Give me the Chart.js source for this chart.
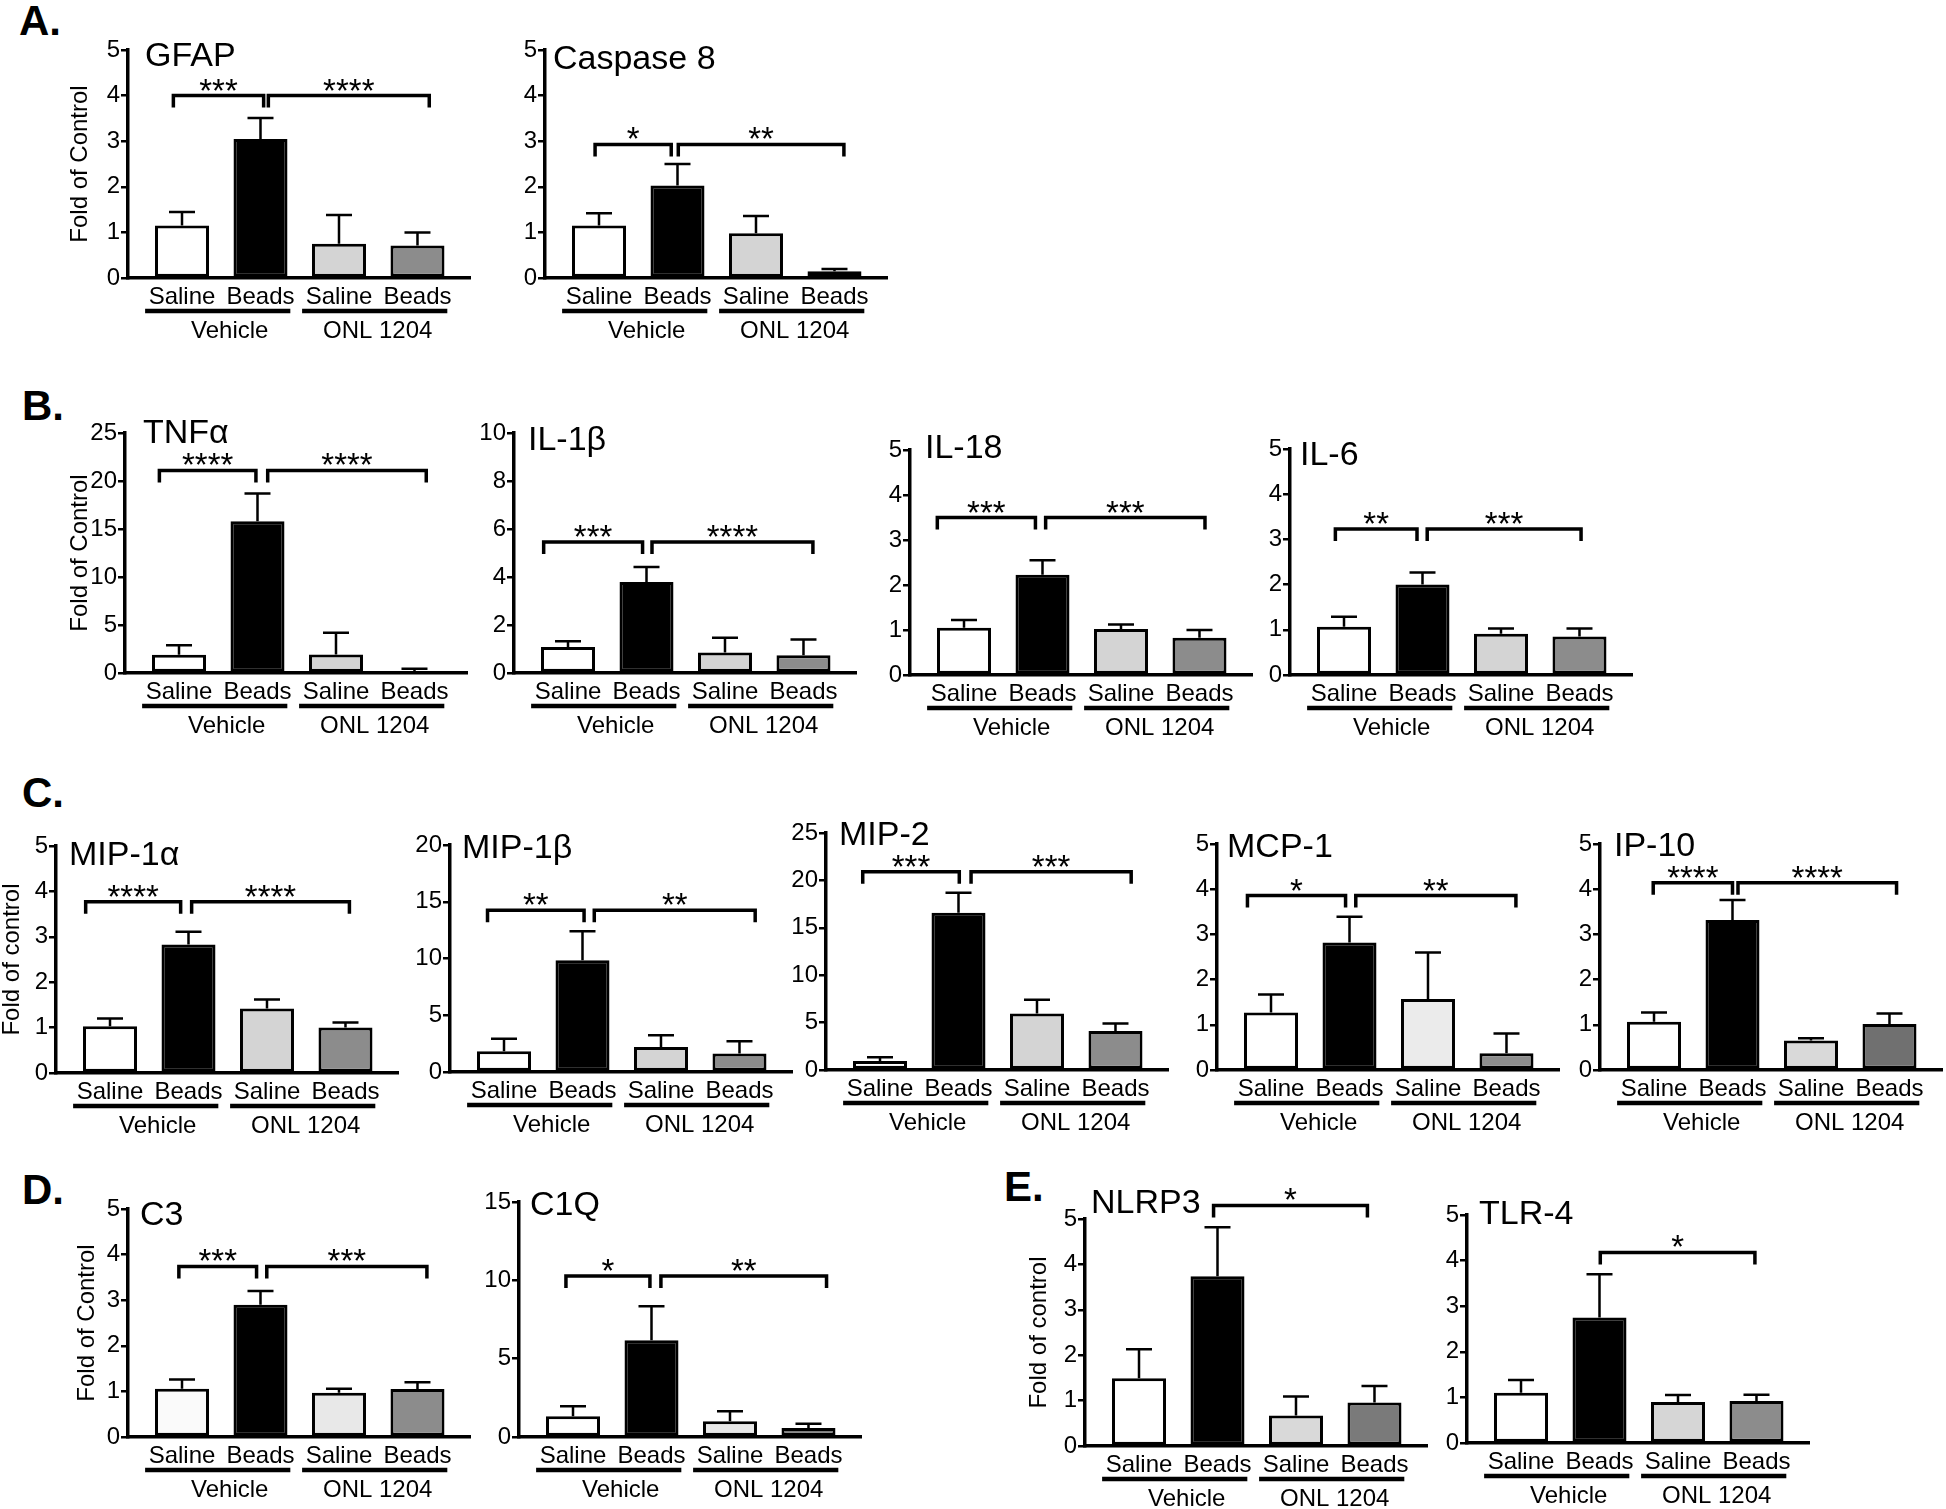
<!DOCTYPE html>
<html>
<head>
<meta charset="utf-8">
<script src="https://cdn.jsdelivr.net/npm/chart.js@4.4.1/dist/chart.umd.min.js"></script>
<style>
  html, body { margin: 0; padding: 0; background: #fff; }
  body { width: 1946px; height: 1509px; position: relative; overflow: hidden; }
  canvas { position: absolute; }
  .letter { position: absolute; font: bold 42px 'Liberation Sans', Arial, sans-serif; line-height: 42px; color: #000; }
</style>
</head>
<body>
<div class="letter" style="left:19px;top:0px">A.</div>
<div class="letter" style="left:22px;top:385px">B.</div>
<div class="letter" style="left:22px;top:772px">C.</div>
<div class="letter" style="left:22px;top:1169px">D.</div>
<div class="letter" style="left:1004px;top:1166px">E.</div>
<script>
const FONT = "'Liberation Sans', Arial, sans-serif";

// x categories and group names
const groups = ['Saline', 'Beads', 'Saline', 'Beads'];
const treatments = ['Vehicle', 'ONL 1204'];

// mean, SEM and significance brackets [from, to, height, stars] for each marker
const gfapMean = [1.15, 3.05, 0.75, 0.71];
const gfapSem = [0.30, 0.46, 0.63, 0.29];
const gfapSig = [[-0.11, 1.04, 4.0, '***'], [1.10, 3.15, 4.0, '****']];

const casp8Mean = [1.15, 2.03, 0.98, 0.15];
const casp8Sem = [0.27, 0.47, 0.38, 0.05];
const casp8Sig = [[-0.05, 0.92, 2.93, '*'], [1.01, 3.12, 2.93, '**']];

const tnfMean = [1.9, 15.8, 1.94, 0.2];
const tnfSem = [0.98, 2.9, 2.26, 0.25];
const tnfSig = [[-0.25, 0.98, 21.1, '****'], [1.13, 3.15, 21.1, '****']];

const il1bMean = [1.08, 3.79, 0.85, 0.74];
const il1bSem = [0.24, 0.63, 0.62, 0.66];
const il1bSig = [[-0.31, 0.95, 5.46, '***'], [1.07, 3.12, 5.46, '****']];

const il18Mean = [1.05, 2.23, 1.02, 0.83];
const il18Sem = [0.17, 0.32, 0.10, 0.17];
const il18Sig = [[-0.34, 0.91, 3.5, '***'], [1.04, 3.07, 3.5, '***']];

const il6Mean = [1.07, 2.0, 0.91, 0.85];
const il6Sem = [0.22, 0.27, 0.12, 0.18];
const il6Sig = [[-0.11, 0.93, 3.23, '**'], [1.06, 3.02, 3.23, '***']];

const mip1aMean = [1.03, 2.83, 1.42, 1.0];
const mip1aSem = [0.17, 0.28, 0.20, 0.11];
const mip1aSig = [[-0.31, 0.90, 3.77, '****'], [1.04, 3.05, 3.77, '****']];

const mip1bMean = [1.82, 9.85, 2.2, 1.62];
const mip1bSem = [1.12, 2.55, 1.04, 1.08];
const mip1bSig = [[-0.21, 1.02, 14.26, '**'], [1.15, 3.2, 14.26, '**']];

const mip2Mean = [0.95, 16.6, 5.95, 4.12];
const mip2Sem = [0.4, 2.1, 1.45, 0.78];
const mip2Sig = [[-0.22, 1.01, 20.9, '***'], [1.16, 3.2, 20.9, '***']];

const mcp1Mean = [1.27, 2.82, 1.57, 0.37];
const mcp1Sem = [0.40, 0.57, 1.03, 0.44];
const mcp1Sig = [[-0.3, 0.95, 3.86, '*'], [1.08, 3.12, 3.86, '**']];

const ip10Mean = [1.07, 3.32, 0.65, 1.02];
const ip10Sem = [0.20, 0.44, 0.05, 0.23];
const ip10Sig = [[-0.01, 1.0, 4.14, '****'], [1.07, 3.09, 4.14, '****']];

const c3Mean = [1.06, 2.9, 0.97, 1.05];
const c3Sem = [0.20, 0.30, 0.09, 0.15];
const c3Sig = [[-0.04, 0.95, 3.74, '***'], [1.08, 3.12, 3.74, '***']];

const c1qMean = [1.32, 6.17, 1.0, 0.57];
const c1qSem = [0.64, 2.17, 0.64, 0.28];
const c1qSig = [[-0.09, 0.98, 10.28, '*'], [1.12, 3.23, 10.28, '**']];

const nlrp3Mean = [1.49, 3.74, 0.67, 0.96];
const nlrp3Sem = [0.64, 1.08, 0.42, 0.36];
const nlrp3Sig = [[0.95, 2.91, 5.3, '*']];

const tlr4Mean = [1.1, 2.75, 0.9, 0.92];
const tlr4Sem = [0.28, 0.95, 0.15, 0.14];
const tlr4Sig = [[1.01, 2.98, 4.18, '*']];

// layout of each small plot (axis x, top and zero pixel of the y axis)
const stdColors = ['#ffffff', '#000000', '#d4d4d4', '#8c8c8c'];
const panels = [
  {id: 'gfap', title: 'GFAP', mean: gfapMean, sem: gfapSem, sig: gfapSig, max: 5, step: 1, ax: 128, top: 50, zero: 278, tdx: 17, tdy: 16, ylabel: 'Fold of Control', ydx: -48, colors: stdColors},
  {id: 'casp8', title: 'Caspase 8', mean: casp8Mean, sem: casp8Sem, sig: casp8Sig, max: 5, step: 1, ax: 545, top: 50, zero: 278, tdx: 8, tdy: 19, colors: stdColors},
  {id: 'tnf', title: 'TNFα', mean: tnfMean, sem: tnfSem, sig: tnfSig, max: 25, step: 5, ax: 125, top: 433, zero: 673, tdx: 18, tdy: 10, ylabel: 'Fold of Control', ydx: -45, colors: stdColors},
  {id: 'il1b', title: 'IL-1β', mean: il1bMean, sem: il1bSem, sig: il1bSig, max: 10, step: 2, ax: 514, top: 433, zero: 673, tdx: 14, tdy: 17, colors: stdColors},
  {id: 'il18', title: 'IL-18', mean: il18Mean, sem: il18Sem, sig: il18Sig, max: 5, step: 1, ax: 910, top: 450, zero: 675, tdx: 15, tdy: 8, colors: stdColors},
  {id: 'il6', title: 'IL-6', mean: il6Mean, sem: il6Sem, sig: il6Sig, max: 5, step: 1, ax: 1290, top: 449, zero: 675, tdx: 10, tdy: 16, colors: stdColors},
  {id: 'mip1a', title: 'MIP-1α', mean: mip1aMean, sem: mip1aSem, sig: mip1aSig, max: 5, step: 1, ax: 56, top: 846, zero: 1073, tdx: 13, tdy: 19, ylabel: 'Fold of control', ydx: -44, colors: stdColors},
  {id: 'mip1b', title: 'MIP-1β', mean: mip1bMean, sem: mip1bSem, sig: mip1bSig, max: 20, step: 5, ax: 450, top: 845, zero: 1072, tdx: 12, tdy: 13, colors: stdColors},
  {id: 'mip2', title: 'MIP-2', mean: mip2Mean, sem: mip2Sem, sig: mip2Sig, max: 25, step: 5, ax: 826, top: 833, zero: 1070, tdx: 13, tdy: 12, colors: stdColors},
  {id: 'mcp1', title: 'MCP-1', mean: mcp1Mean, sem: mcp1Sem, sig: mcp1Sig, max: 5, step: 1, ax: 1217, top: 844, zero: 1070, tdx: 10, tdy: 13, colors: ['#ffffff', '#000000', '#ebebeb', '#8c8c8c']},
  {id: 'ip10', title: 'IP-10', mean: ip10Mean, sem: ip10Sem, sig: ip10Sig, max: 5, step: 1, ax: 1600, top: 844, zero: 1070, tdx: 14, tdy: 12, colors: ['#ffffff', '#000000', '#d9d9d9', '#707070']},
  {id: 'c3', title: 'C3', mean: c3Mean, sem: c3Sem, sig: c3Sig, max: 5, step: 1, ax: 128, top: 1209, zero: 1437, tdx: 12, tdy: 16, ylabel: 'Fold of Control', ydx: -41, colors: ['#fafafa', '#000000', '#e8e8e8', '#8c8c8c']},
  {id: 'c1q', title: 'C1Q', mean: c1qMean, sem: c1qSem, sig: c1qSig, max: 15, step: 5, ax: 519, top: 1202, zero: 1437, tdx: 11, tdy: 13, colors: ['#ffffff', '#000000', '#e8e8e8', '#7d7d7d']},
  {id: 'nlrp3', title: 'NLRP3', mean: nlrp3Mean, sem: nlrp3Sem, sig: nlrp3Sig, max: 5, step: 1, ax: 1085, top: 1219, zero: 1446, tdx: 6, tdy: -6, ylabel: 'Fold of control', ydx: -46, colors: ['#ffffff', '#000000', '#d9d9d9', '#7a7a7a']},
  {id: 'tlr4', title: 'TLR-4', mean: tlr4Mean, sem: tlr4Sem, sig: tlr4Sig, max: 5, step: 1, ax: 1467, top: 1215, zero: 1443, tdx: 12, tdy: 9, colors: ['#ffffff', '#000000', '#d6d6d6', '#8c8c8c']}
];

const PAD_L = 70, PAD_T = 90, PLOT_W = 342, PAD_R = 30, XH = 40, PAD_B = 50;
const byId = {};

// error bars, brackets, group underlines, titles
const decor = {
  id: 'decor',
  afterDatasetsDraw(chart) {
    const p = byId[chart.canvas.id];
    const ctx = chart.ctx, ys = chart.scales.y;
    ctx.save();
    ctx.strokeStyle = '#000';
    ctx.lineWidth = 2.5;
    chart.getDatasetMeta(0).data.forEach((bar, i) => {
      const top = ys.getPixelForValue(p.mean[i] + p.sem[i]);
      ctx.beginPath();
      ctx.moveTo(bar.x, bar.y);
      ctx.lineTo(bar.x, top);
      ctx.moveTo(bar.x - 13, top);
      ctx.lineTo(bar.x + 13, top);
      ctx.stroke();
    });
    ctx.restore();
  },
  afterDraw(chart) {
    const p = byId[chart.canvas.id];
    const ctx = chart.ctx, xs = chart.scales.x, ys = chart.scales.y;
    const area = chart.chartArea;
    const zero = ys.getPixelForValue(0);
    ctx.save();
    ctx.strokeStyle = '#000';
    ctx.fillStyle = '#000';
    ctx.lineJoin = 'miter';

    // significance brackets
    ctx.lineWidth = 3.5;
    ctx.font = '33px ' + FONT;
    ctx.textAlign = 'center';
    ctx.textBaseline = 'alphabetic';
    p.sig.forEach(([a, b, h, label]) => {
      const x1 = xs.getPixelForValue(a), x2 = xs.getPixelForValue(b), yy = ys.getPixelForValue(h);
      ctx.beginPath();
      ctx.moveTo(x1, yy + 12);
      ctx.lineTo(x1, yy);
      ctx.lineTo(x2, yy);
      ctx.lineTo(x2, yy + 12);
      ctx.stroke();
      ctx.fillText(label, (x1 + x2) / 2, yy + 6);
    });

    // treatment underlines
    ctx.lineWidth = 4.5;
    ctx.font = '24px ' + FONT;
    treatments.forEach((t, k) => {
      const x1 = xs.getPixelForValue(2 * k - 0.47), x2 = xs.getPixelForValue(2 * k + 1.38);
      ctx.beginPath();
      ctx.moveTo(x1, zero + 33);
      ctx.lineTo(x2, zero + 33);
      ctx.stroke();
      ctx.fillText(t, (x1 + x2) / 2 + (k === 0 ? 12 : 3), zero + 59.5);
    });

    // panel title
    ctx.font = '34px ' + FONT;
    ctx.textAlign = 'left';
    ctx.fillText(p.title, area.left + p.tdx, area.top + p.tdy);

    // y axis title
    if (p.ylabel) {
      ctx.translate(area.left + p.ydx, (area.top + area.bottom) / 2);
      ctx.rotate(-Math.PI / 2);
      ctx.textAlign = 'center';
      ctx.textBaseline = 'middle';
      ctx.font = '24px ' + FONT;
      ctx.fillText(p.ylabel, 0, 0);
    }
    ctx.restore();
  }
};

panels.forEach(p => {
  byId[p.id] = p;
  const plotH = p.zero - p.top;
  const canvas = document.createElement('canvas');
  canvas.id = p.id;
  canvas.width = PAD_L + PLOT_W + PAD_R;
  canvas.height = PAD_T + plotH + XH + PAD_B;
  canvas.style.left = (p.ax - PAD_L) + 'px';
  canvas.style.top = (p.top - PAD_T) + 'px';
  document.body.appendChild(canvas);

  new Chart(canvas, {
    type: 'bar',
    data: {
      datasets: [{
        data: p.mean.map((v, i) => ({x: i, y: v})),
        backgroundColor: p.colors,
        borderColor: '#000',
        borderWidth: 3,
        borderSkipped: false,
        barPercentage: 0.688,
        categoryPercentage: 1
      }]
    },
    options: {
      responsive: false,
      animation: false,
      events: [],
      layout: {padding: {left: PAD_L - 40, top: PAD_T, right: PAD_R, bottom: PAD_B}},
      plugins: {legend: {display: false}, tooltip: {enabled: false}},
      scales: {
        x: {
          type: 'linear',
          min: -0.688,
          max: 3.669,
          offset: false,
          afterFit: s => { s.height = XH; },
          afterBuildTicks: s => { s.ticks = groups.map((g, i) => ({value: i})); },
          grid: {display: true, offset: false, drawOnChartArea: false, drawTicks: false},
          border: {display: true, color: '#000', width: 3.5},
          ticks: {
            autoSkip: false,
            maxRotation: 0,
            padding: 5,
            color: '#000',
            font: {family: FONT, size: 24},
            callback: v => groups[v]
          }
        },
        y: {
          min: 0,
          max: p.max,
          afterFit: s => { s.width = 40; },
          grid: {drawOnChartArea: false, drawTicks: true, tickLength: 7, color: '#000', lineWidth: 2.5},
          border: {display: true, color: '#000', width: 3.5},
          ticks: {stepSize: p.step, padding: 1, color: '#000', font: {family: FONT, size: 24}}
        }
      }
    },
    plugins: [decor]
  });
});
</script>
</body>
</html>
